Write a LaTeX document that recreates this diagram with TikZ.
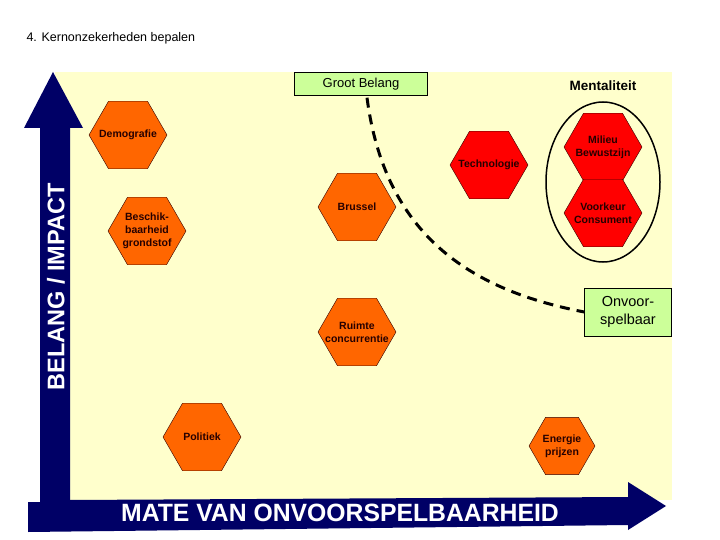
\documentclass[tikz,border=0pt]{standalone}
\usepackage{fontspec}
\setmainfont{Liberation Sans}
\usetikzlibrary{shapes.geometric}
\definecolor{bgy}{HTML}{FFFFCC}
\definecolor{navy}{HTML}{000066}
\definecolor{hexo}{HTML}{FF6600}
\definecolor{boxg}{HTML}{CCFF99}
\tikzset{
  hexa/.style={regular polygon,regular polygon sides=6,minimum size=78pt,inner sep=0pt,draw=black!80!red,fill=hexo},
  hexr/.style={hexa,fill=red},
  hext/.style={font=\fontsize{10.5}{13}\selectfont\bfseries,align=center,text=black!85!red,inner sep=0pt},
  gbox/.style={draw=black,fill=boxg,inner sep=0pt,align=center},
  axlab/.style={text=white,font=\bfseries}
}
\begin{document}
\begin{tikzpicture}[x=1pt,y=-1pt]
\useasboundingbox (0,0) rectangle (720,540);
\fill[white] (0,0) rectangle (720,540);
\fill[bgy] (55,72) rectangle (672,500);
\node[anchor=west,font=\fontsize{12.5}{14}\selectfont] (title) at (23,38) {4. Kernonzekerheden bepalen};
% axes
\fill[navy] (40,530) -- (40,128) -- (24,128) -- (53,72) -- (83,128) -- (70,128) -- (70,500) -- (628,497) -- (628,482) -- (666,506) -- (628,530) -- (628,525) -- (28,532) -- (28,502) -- (40,502) -- cycle;
\node[axlab,rotate=90,font=\fontsize{24}{26}\selectfont\bfseries,xscale=0.98] (ylab) at (56,287) {BELANG / IMPACT};
\node[axlab,font=\fontsize{25}{27}\selectfont\bfseries,xscale=0.99] (xlab) at (340,513) {MATE VAN ONVOORSPELBAARHEID};
% boxes
\node[gbox,minimum width=133pt,minimum height=23pt,font=\fontsize{13}{15}\selectfont] (groot) at (361,84) {Groot Belang};
\node[gbox,minimum width=87pt,minimum height=48pt,font=\fontsize{14.5}{18}\selectfont] (onv) at (628,312) {Onvoor-\\spelbaar};
\node[font=\fontsize{13.5}{15}\selectfont\bfseries] (ment) at (603,86) {Mentaliteit};
% dashed curve
\draw[line width=3pt,dash pattern=on 10pt off 7pt] (groot.south)++(6,2) coordinate (cs) (cs) .. controls (385,235) and (470,290) .. (onv.west);
% hexagons
\node[hexa] (demo) at (128,135) {};
\node[hext] (demot) at (demo) {Demografie};
\node[hexa] (besch) at (147,231) {};
\node[hext] (beschtx) at (besch) {Beschik-\\baarheid\\grondstof};
\node[hexa] (brus) at (357,207) {};
\node[hext] (brust) at (brus) {Brussel};
\node[hexa] (ruim) at (357,332) {};
\node[hext] (ruimt) at (ruim) {Ruimte\\concurrentie};
\node[hexa] (pol) at (202,437) {};
\node[hext] (polt) at (pol) {Politiek};
\node[hexa,minimum size=66pt] (ener) at (562,446) {};
\node[hext] (enert) at (ener) {Energie\\prijzen};
\node[hexr] (tech) at (489,165) {};
\node[hext] (techt) at (tech) {Technologie};
\node[hexr] (mil) at (603,147) {};
\node[hext] (milt) at (mil) {Milieu\\Bewustzijn};
\node[hexr] (voor) at (603,213) {};
\node[hext] (voort) at (voor) {Voorkeur\\Consument};
\draw[line width=1.5pt] (603,182) ellipse [x radius=57pt,y radius=80pt];
\end{tikzpicture}
\end{document}
